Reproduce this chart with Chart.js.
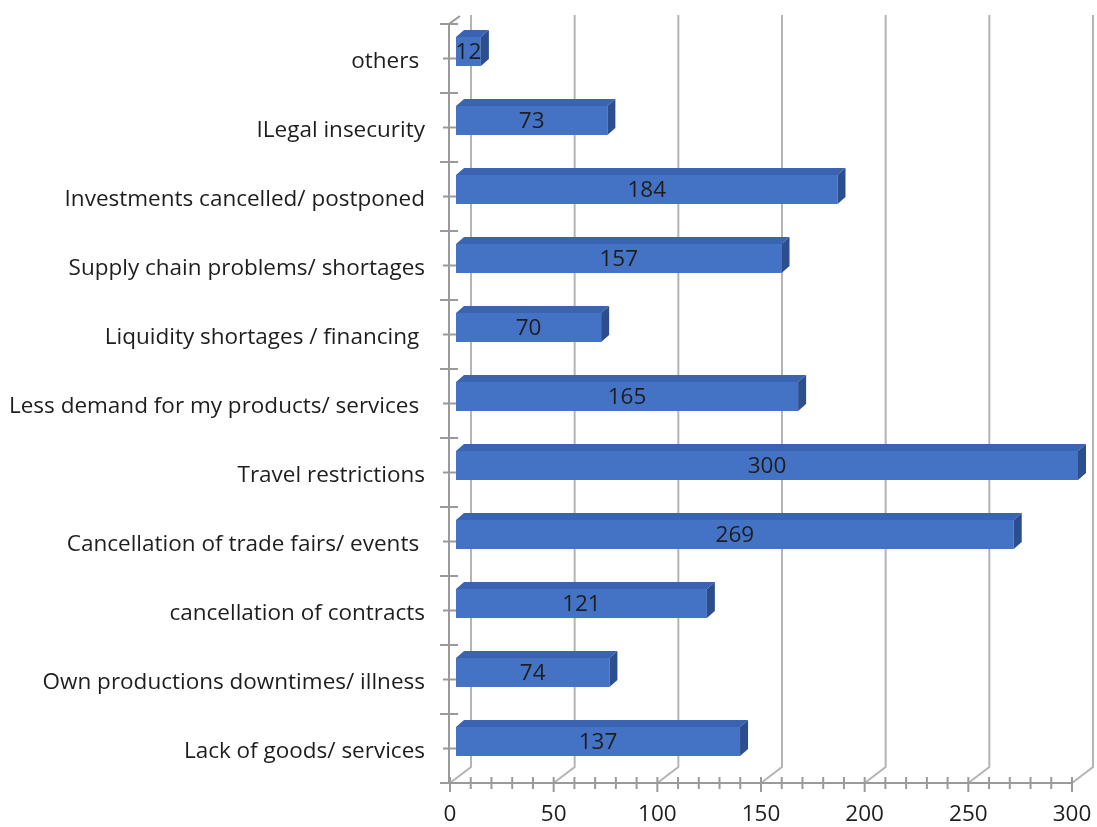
<!DOCTYPE html>
<html>
<head>
<meta charset="utf-8">
<script src="https://cdn.jsdelivr.net/npm/chart.js@4/dist/chart.umd.min.js"></script>
<style>
    html, body { margin: 0; padding: 0; background: #ffffff; }
    #impactChart { display: block; }
</style>
</head>
<body>
<canvas id="impactChart" width="1097" height="827"></canvas>
<script>
// Chart labels (top to bottom)
const categories = [
    "others ",
    "ILegal insecurity",
    "Investments cancelled/ postponed",
    "Supply chain problems/ shortages",
    "Liquidity shortages / financing ",
    "Less demand for my products/ services ",
    "Travel restrictions",
    "Cancellation of trade fairs/ events ",
    "cancellation of contracts",
    "Own productions downtimes/ illness",
    "Lack of goods/ services"
];

// Chart data
const responses = [12, 73, 184, 157, 70, 165, 300, 269, 121, 74, 137];

// Value axis
const axisMin = 0;
const axisMax = 300;
const majorStep = 50;
const minorStep = 10;

// Define colors
var frontColor = '#4472C4';
var topColor = '#3A64B2';
var sideColor = '#2D4E8C';
var gridColor = '#B4B4B4';
var axisColor = '#9A9A9A';
var textColor = '#1E1E1E';

// Define fonts
var fontFamily = '"Open Sans", Lato, sans-serif';
var fontSize = 22.5;

// depth of the floor / back wall and of each bar
const wallDx = 21, wallDy = 16;
const barShiftX = 6, barShiftY = -7;
const barDx = 8, barDy = 7;

const walls = {
    id: 'walls',
    beforeDatasetsDraw(chart) {
        const ctx = chart.ctx;
        const area = chart.chartArea;
        const x = chart.scales.x;
        const y = chart.scales.y;
        const band = (area.bottom - area.top) / categories.length;

        ctx.save();
        ctx.lineCap = 'butt';

        // back wall gridlines folding onto the floor
        ctx.strokeStyle = gridColor;
        ctx.lineWidth = 2;
        for (let v = axisMin; v <= axisMax; v += majorStep) {
            const px = x.getPixelForValue(v);
            ctx.beginPath();
            ctx.moveTo(px, area.bottom);
            ctx.lineTo(px + wallDx, area.bottom - wallDy);
            ctx.lineTo(px + wallDx, area.top - 9);
            ctx.stroke();
        }

        // category axis with its tick marks
        ctx.strokeStyle = axisColor;
        ctx.lineWidth = 2;
        const ax = area.left - 1;
        ctx.beginPath();
        ctx.moveTo(ax, area.bottom);
        ctx.lineTo(ax, area.top);
        ctx.lineTo(ax + 11, area.top - 8);
        ctx.stroke();
        for (let i = 0; i < categories.length; i++) {
            const yb = area.top + i * band;
            ctx.beginPath();
            ctx.moveTo(ax - 9, yb);
            ctx.lineTo(ax + 9, yb);
            ctx.stroke();
            const yc = y.getPixelForValue(i);
            ctx.beginPath();
            ctx.moveTo(ax - 6, yc);
            ctx.lineTo(ax + 7, yc);
            ctx.stroke();
        }

        // value axis with major and minor ticks
        ctx.beginPath();
        ctx.moveTo(ax - 9, area.bottom);
        ctx.lineTo(x.getPixelForValue(axisMax), area.bottom);
        ctx.stroke();
        for (let v = axisMin; v <= axisMax; v += minorStep) {
            const px = x.getPixelForValue(v);
            const major = v % majorStep === 0;
            ctx.beginPath();
            ctx.moveTo(px, area.bottom - 6);
            ctx.lineTo(px, area.bottom + (major ? 9 : 6));
            ctx.stroke();
        }
        ctx.restore();

        // bars sit a little behind the front edge
        ctx.save();
        ctx.translate(barShiftX, barShiftY);
    },
    afterDatasetsDraw(chart) {
        const ctx = chart.ctx;
        ctx.restore();

        const meta = chart.getDatasetMeta(0);
        ctx.save();
        ctx.translate(barShiftX, barShiftY);
        meta.data.forEach((bar, i) => {
            const p = bar.getProps(['x', 'y', 'base', 'height'], true);
            const top = p.y - p.height / 2;
            const bottom = p.y + p.height / 2;

            // top face
            ctx.fillStyle = topColor;
            ctx.beginPath();
            ctx.moveTo(p.base, top);
            ctx.lineTo(p.base + barDx, top - barDy);
            ctx.lineTo(p.x + barDx, top - barDy);
            ctx.lineTo(p.x, top);
            ctx.closePath();
            ctx.fill();

            // side face
            ctx.fillStyle = sideColor;
            ctx.beginPath();
            ctx.moveTo(p.x, top);
            ctx.lineTo(p.x + barDx, top - barDy);
            ctx.lineTo(p.x + barDx, bottom - barDy);
            ctx.lineTo(p.x, bottom);
            ctx.closePath();
            ctx.fill();

            // value label
            ctx.fillStyle = textColor;
            ctx.font = fontSize + 'px ' + fontFamily;
            ctx.textAlign = 'center';
            ctx.textBaseline = 'middle';
            ctx.fillText(String(responses[i]), (p.base + p.x) / 2, p.y + 1);
        });
        ctx.restore();
    }
};

const data = {
    labels: categories,
    datasets: [{
        data: responses,
        backgroundColor: frontColor,
        borderWidth: 0,
        categoryPercentage: 1,
        barPercentage: 0.42
    }]
};

const config = {
    type: 'bar',
    data: data,
    options: {
        indexAxis: 'y',
        responsive: false,
        animation: false,
        layout: { padding: { top: 24, right: 25, left: 0, bottom: 0 } },
        plugins: {
            legend: { display: false },
            tooltip: { enabled: false },
            title: { display: false }
        },
        scales: {
            x: {
                min: axisMin,
                max: axisMax,
                grid: { display: false, drawTicks: false },
                border: { display: false },
                ticks: {
                    stepSize: majorStep,
                    padding: 18,
                    color: textColor,
                    font: { family: fontFamily, size: fontSize },
                    maxRotation: 0
                },
                afterFit(scale) {
                    scale.height = 44;
                    scale.paddingLeft = 0;
                    scale.paddingRight = 0;
                }
            },
            y: {
                grid: { display: false, drawTicks: false },
                border: { display: false },
                ticks: {
                    padding: 25,
                    labelOffset: 3,
                    color: textColor,
                    font: { family: fontFamily, size: fontSize },
                    autoSkip: false
                },
                afterFit(scale) {
                    scale.width = 450;
                    scale.paddingTop = 0;
                    scale.paddingBottom = 0;
                }
            }
        }
    },
    plugins: [walls]
};

var impactChart = new Chart(document.getElementById('impactChart'), config);
</script>
</body>
</html>
